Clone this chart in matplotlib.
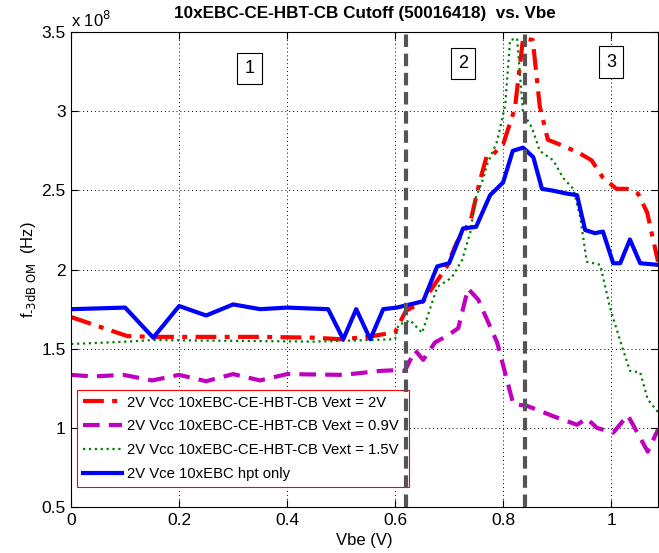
import numpy as np
import matplotlib
matplotlib.use('Agg')
import matplotlib.pyplot as plt

plt.rcParams['font.family'] = ['Liberation Sans', 'DejaVu Sans']

# f-3dB values in units of 1e8 Hz
vbe_red = [0.0, 0.104, 0.152, 0.25, 0.35, 0.45, 0.50, 0.55, 0.60, 0.62, 0.637, 0.652, 0.67, 0.696, 0.714,
           0.74, 0.757, 0.77, 0.782, 0.80, 0.822, 0.837, 0.855, 0.868, 0.883, 0.905, 0.939, 0.964, 0.985,
           1.01, 1.03, 1.05, 1.067, 1.087]
f_red = [1.70, 1.58, 1.575, 1.575, 1.575, 1.57, 1.56, 1.575, 1.605, 1.74, 1.77, 1.80, 1.89, 2.02, 2.17,
         2.31, 2.56, 2.72, 2.73, 2.79, 3.02, 3.46, 3.45, 3.03, 2.82, 2.79, 2.74, 2.69, 2.58,
         2.51, 2.51, 2.48, 2.36, 2.05]

vbe_mag = [0.0, 0.04, 0.097, 0.15, 0.2, 0.25, 0.30, 0.35, 0.40, 0.504, 0.572, 0.603, 0.618, 0.637, 0.652,
           0.674, 0.698, 0.717, 0.735, 0.754, 0.789, 0.819, 0.844, 0.896, 0.937, 0.955, 0.974, 1.004,
           1.031, 1.068, 1.087]
f_mag = [1.335, 1.325, 1.335, 1.30, 1.335, 1.295, 1.34, 1.30, 1.34, 1.335, 1.36, 1.365, 1.36, 1.49, 1.43,
         1.54, 1.585, 1.63, 1.88, 1.81, 1.54, 1.15, 1.14, 1.07, 1.02, 1.06, 1.00, 0.97,
         1.08, 0.85, 0.99]

vbe_grn = [0.0, 0.104, 0.15, 0.3, 0.45, 0.50, 0.60, 0.606, 0.628, 0.65, 0.678, 0.705, 0.724, 0.739,
           0.75, 0.763, 0.77, 0.789, 0.804, 0.813, 0.826, 0.837, 0.853, 0.868, 0.893, 0.911, 0.93, 0.943,
           0.955, 0.98, 0.998, 1.017, 1.035, 1.054, 1.068, 1.087]
f_grn = [1.53, 1.545, 1.555, 1.55, 1.545, 1.55, 1.56, 1.65, 1.68, 1.60, 1.89, 1.95, 2.06, 2.23,
         2.46, 2.57, 2.66, 2.81, 3.04, 3.45, 3.46, 2.99, 2.90, 2.75, 2.69, 2.58, 2.51, 2.33,
         2.05, 2.03, 1.76, 1.55, 1.36, 1.35, 1.18, 1.10]

vbe_blu = [0.0, 0.1, 0.152, 0.2, 0.25, 0.30, 0.35, 0.40, 0.476, 0.504, 0.528, 0.554, 0.578, 0.603, 0.628,
           0.652, 0.678, 0.70, 0.726, 0.75, 0.776, 0.80, 0.818, 0.837, 0.856, 0.872, 0.89, 0.918, 0.937,
           0.952, 0.97, 0.985, 1.004, 1.017, 1.035, 1.054, 1.087]
f_blu = [1.75, 1.76, 1.57, 1.77, 1.71, 1.78, 1.75, 1.76, 1.75, 1.56, 1.75, 1.56, 1.75, 1.76, 1.78,
         1.80, 2.02, 2.04, 2.26, 2.27, 2.47, 2.55, 2.75, 2.77, 2.71, 2.51, 2.50, 2.48, 2.47,
         2.25, 2.23, 2.24, 2.04, 2.04, 2.19, 2.04, 2.03]

region_lines = [0.62, 0.84]
region_labels = ['1', '2', '3']
region_pos = [(0.33, 3.27), (0.726, 3.30), (1.0, 3.31)]

legend_labels = ['2V Vcc 10xEBC-CE-HBT-CB Vext = 2V',
                 '2V Vcc 10xEBC-CE-HBT-CB Vext = 0.9V',
                 '2V Vcc 10xEBC-CE-HBT-CB Vext = 1.5V',
                 '2V Vce 10xEBC hpt only']

fig = plt.figure(figsize=(6.59, 5.53), dpi=100)
ax = fig.add_axes([0.108, 0.083, 0.8905, 0.859])

l1, = ax.plot(vbe_red, f_red, color='red', linestyle='-.', linewidth=3, dashes=(5, 2, 1.2, 2))
l2, = ax.plot(vbe_mag, f_mag, color='#bf00bf', linestyle='--', linewidth=3, dashes=(4, 2.2))
l3, = ax.plot(vbe_grn, f_grn, color='#008000', linestyle=':', linewidth=1.6)
l4, = ax.plot(vbe_blu, f_blu, color='blue', linestyle='-', linewidth=3)

for xv in region_lines:
    ax.axvline(xv, color='#555555', linestyle='--', linewidth=3, dashes=(3, 1.6), zorder=6)

for lab, (xp, yp) in zip(region_labels, region_pos):
    ax.text(xp, yp, lab, fontsize=13, ha='center', va='center',
            bbox=dict(boxstyle='square,pad=0.4', fc='white', ec='black', lw=0.8))

ax.set_xlim(0, 1.087)
ax.set_ylim(0.5, 3.5)
ax.set_xticks([0, 0.2, 0.4, 0.6, 0.8, 1])
ax.set_xticklabels(['0', '0.2', '0.4', '0.6', '0.8', '1'])
ax.set_yticks([0.5, 1, 1.5, 2, 2.5, 3, 3.5])
ax.set_yticklabels(['0.5', '1', '1.5', '2', '2.5', '3', '3.5'])
ax.tick_params(direction='in', top=True, right=True, labelsize=12.5, length=5, pad=4)
ax.grid(True, color='black', linestyle=(0, (1, 3)), linewidth=0.7)

ax.set_xlabel('Vbe (V)', fontsize=12)
ax.set_ylabel(r'f$_{\text{-3dB OM}}$  (Hz)', fontsize=12, labelpad=2)
ax.set_title('10xEBC-CE-HBT-CB Cutoff (50016418)  vs. Vbe', fontsize=12.3, fontweight='bold', pad=10)
ax.text(0.0, 1.004, r'x 10$^{8}$', transform=ax.transAxes, fontsize=12, ha='left', va='bottom')

leg = ax.legend([l1, l2, l3, l4], legend_labels, loc='lower left',
                bbox_to_anchor=(0.01, 0.042, 0.566, 0.206), mode='expand',
                fontsize=10.75, fancybox=False, framealpha=1, handlelength=2.6,
                handletextpad=0.35, borderaxespad=0, labelspacing=0.66)
leg.get_frame().set_edgecolor('red')
leg.get_frame().set_linewidth(0.8)

fig.savefig('out.png', dpi=100)
